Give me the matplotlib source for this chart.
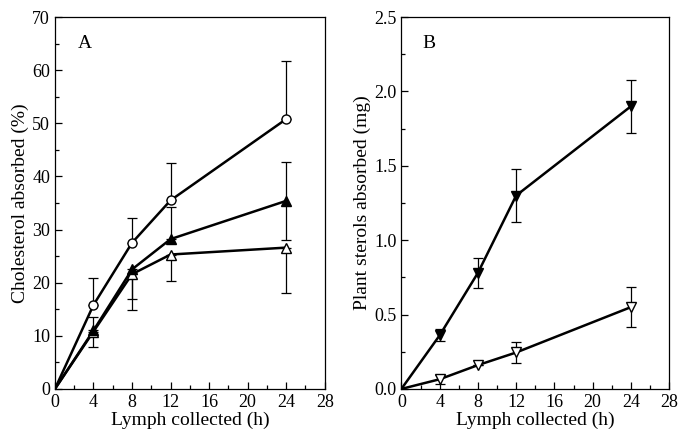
import matplotlib
matplotlib.use("Agg")
import matplotlib.pyplot as plt
from matplotlib.ticker import MultipleLocator, FormatStrFormatter

plt.rcParams['font.family'] = ['Liberation Serif', 'DejaVu Serif']

# Panel A
hours = [0, 4, 8, 12, 24]
circ_A = [0, 15.8, 27.5, 35.5, 50.8]
circ_A_lo = [0, 0, 0, 0, 0]
circ_A_hi = [0, 5.0, 4.6, 7.0, 11.0]
ftri_A = [0, 11.0, 22.5, 28.2, 35.4]
ftri_A_lo = [0, 0, 5.5, 0, 7.4]
ftri_A_hi = [0, 2.5, 0, 6.1, 7.4]
otri_A = [0, 10.8, 21.6, 25.3, 26.6]
otri_A_lo = [0, 3.0, 6.8, 5.0, 8.6]
otri_A_hi = [0, 0, 0, 0, 0]

# Panel B
fdn_B = [0, 0.36, 0.78, 1.30, 1.90]
fdn_B_lo = [0, 0.04, 0.10, 0.18, 0.18]
fdn_B_hi = [0, 0.04, 0.10, 0.18, 0.18]
odn_B = [0, 0.065, 0.16, 0.245, 0.55]
odn_B_lo = [0, 0.03, 0.0, 0.07, 0.135]
odn_B_hi = [0, 0.03, 0.0, 0.07, 0.135]

fig = plt.figure(figsize=(6.78, 4.37), dpi=100)
axA = fig.add_axes([0.081, 0.110, 0.398, 0.851])
axB = fig.add_axes([0.592, 0.110, 0.395, 0.851])

lw = 1.8
elw = 0.9
ms = 6.5
cs = 3.5

def series(ax, x, y, lo, hi, marker, face):
    ax.errorbar(x[1:], y[1:], yerr=[lo[1:], hi[1:]], fmt='none', ecolor='black',
                elinewidth=elw, capsize=cs, capthick=elw, zorder=2)
    ax.plot(x, y, '-', color='black', lw=lw, zorder=3)
    ax.plot(x[1:], y[1:], marker=marker, ls='none', ms=ms, mfc=face,
            mec='black', mew=1.0, zorder=4)

series(axA, hours, otri_A, otri_A_lo, otri_A_hi, '^', 'white')
series(axA, hours, ftri_A, ftri_A_lo, ftri_A_hi, '^', 'black')
series(axA, hours, circ_A, circ_A_lo, circ_A_hi, 'o', 'white')

series(axB, hours, odn_B, odn_B_lo, odn_B_hi, 'v', 'white')
series(axB, hours, fdn_B, fdn_B_lo, fdn_B_hi, 'v', 'black')

fs = 13
for ax in (axA, axB):
    ax.set_xlim(0, 28)
    ax.xaxis.set_major_locator(MultipleLocator(4))
    ax.xaxis.set_minor_locator(MultipleLocator(2))
    ax.tick_params(which='both', direction='in', top=False, right=False,
                   labelsize=fs, width=0.9)
    ax.tick_params(which='major', length=5)
    ax.tick_params(which='minor', length=3)
    ax.set_xlabel('Lymph collected (h)', fontsize=fs + 1, labelpad=1)
    for s in ax.spines.values():
        s.set_linewidth(0.9)

axA.set_ylim(0, 70)
axA.yaxis.set_major_locator(MultipleLocator(10))
axA.yaxis.set_minor_locator(MultipleLocator(5))
axA.set_ylabel('Cholesterol absorbed (%)', fontsize=fs + 1, labelpad=2)
axA.text(2.4, 65, 'A', fontsize=fs + 1, ha='left', va='center')

axB.set_ylim(0, 2.5)
axB.yaxis.set_major_locator(MultipleLocator(0.5))
axB.yaxis.set_minor_locator(MultipleLocator(0.25))
axB.yaxis.set_major_formatter(FormatStrFormatter('%.1f'))
axB.set_ylabel('Plant sterols absorbed (mg)', fontsize=fs + 1, labelpad=2)
axB.text(2.2, 2.32, 'B', fontsize=fs + 1, ha='left', va='center')

fig.savefig('out.png', dpi=100)
